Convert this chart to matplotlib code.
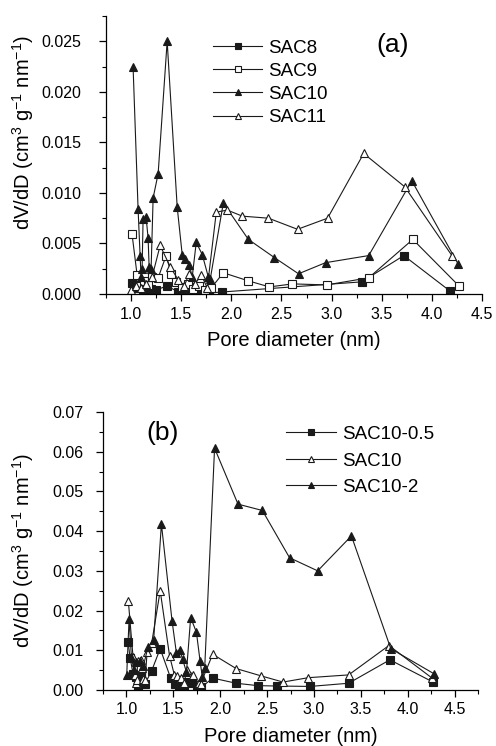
import matplotlib
matplotlib.use("Agg")
import matplotlib.pyplot as plt
from matplotlib.ticker import MultipleLocator

plt.rcParams["font.family"] = ["Liberation Sans", "DejaVu Sans"]
plt.rcParams["mathtext.fontset"] = "custom"
plt.rcParams["mathtext.rm"] = "Liberation Sans"

# ---- panel (a) -------------------------------------------------------------
sac8_x = [1.01, 1.05, 1.08, 1.12, 1.16, 1.20, 1.25, 1.36, 1.47, 1.55, 1.63, 1.70, 1.78, 1.91, 3.30, 3.72, 4.18]
sac8_y = [0.0011, 0.0006, 0.0009, 0.0003, 0.0006, 0.0005, 0.0004, 0.0008, 0.0002, 0.0003, 0.0007, 0.0002, 0.0001, 0.0002,
          0.0012, 0.0038, 0.0003]

sac9_x = [1.01, 1.06, 1.09, 1.13, 1.17, 1.21, 1.27, 1.35, 1.40, 1.45, 1.51, 1.57, 1.62, 1.68, 1.74, 1.80, 1.92, 2.17,
          2.38, 2.61, 2.95, 3.37, 3.81, 4.27]
sac9_y = [0.0059, 0.0019, 0.0008, 0.0013, 0.0009, 0.0017, 0.0016, 0.0038, 0.0020, 0.0012, 0.0007, 0.0010, 0.0005, 0.0008,
          0.0004, 0.0006, 0.0021, 0.0013, 0.0007, 0.0010, 0.0009, 0.0016, 0.0054, 0.0008]

sac10_x = [1.02, 1.07, 1.09, 1.10, 1.11, 1.12, 1.15, 1.17, 1.18, 1.20, 1.22, 1.27, 1.36, 1.46, 1.51, 1.54, 1.58, 1.61,
           1.65, 1.71, 1.77, 1.79, 1.92, 2.17, 2.43, 2.67, 2.94, 3.37, 3.80, 4.26]
sac10_y = [0.0225, 0.0084, 0.0038, 0.0017, 0.0025, 0.0074, 0.0076, 0.0055, 0.0027, 0.0025, 0.0095, 0.0119, 0.0250, 0.0086,
           0.0039, 0.0035, 0.0029, 0.0017, 0.0051, 0.0039, 0.0017, 0.0015, 0.0090, 0.0054, 0.0036, 0.0020, 0.0031, 0.0038,
           0.0112, 0.0030]

sac11_x = [1.00, 1.05, 1.10, 1.15, 1.21, 1.29, 1.39, 1.47, 1.53, 1.58, 1.64, 1.70, 1.76, 1.85, 1.96, 2.11, 2.37, 2.66,
           2.96, 3.32, 3.73, 4.20]
sac11_y = [0.0004, 0.0008, 0.0006, 0.0010, 0.0017, 0.0048, 0.0027, 0.0014, 0.0008, 0.0020, 0.0010, 0.0019, 0.0006, 0.0081,
           0.0083, 0.0077, 0.0075, 0.0064, 0.0075, 0.0139, 0.0106, 0.0038]

# ---- panel (b) -------------------------------------------------------------
s05_x = [1.017, 1.04, 1.07, 1.107, 1.12, 1.16, 1.195, 1.27, 1.36, 1.47, 1.515, 1.56, 1.61, 1.65, 1.70, 1.75, 1.80, 1.92,
         2.17, 2.40, 2.61, 2.96, 3.37, 3.81, 4.27]
s05_y = [0.0121, 0.0080, 0.0041, 0.0032, 0.0011, 0.0037, 0.0014, 0.0049, 0.0104, 0.0031, 0.0016, 0.0010, 0.0008, 0.0020,
         0.0017, 0.0006, 0.0007, 0.0030, 0.0017, 0.0011, 0.0010, 0.0009, 0.0017, 0.0076, 0.0020]

s2_x = [1.003, 1.028, 1.053, 1.08, 1.107, 1.14, 1.18, 1.23, 1.29, 1.373, 1.486, 1.533, 1.568, 1.60, 1.64, 1.685, 1.746,
        1.785, 1.81, 1.835, 1.94, 2.19, 2.45, 2.74, 3.04, 3.40, 3.82, 4.28]
s2_y = [0.0038, 0.0178, 0.0083, 0.0050, 0.0070, 0.0074, 0.0060, 0.0108, 0.0125, 0.0418, 0.0175, 0.0093, 0.0100, 0.0077,
        0.0045, 0.0182, 0.0146, 0.0074, 0.0032, 0.0056, 0.0609, 0.0468, 0.0452, 0.0333, 0.0300, 0.0388, 0.0104, 0.0041]

LINE = "#1a1a1a"
YLABEL = r"dV/dD (cm$^{3}$ g$^{-1}$ nm$^{-1}$)"


def style_axes(ax, xmax, ymax, ymajor, ypad, label_xy):
    ax.set_xlim(0.75, xmax)
    ax.set_ylim(0, ymax)
    ax.xaxis.set_major_locator(MultipleLocator(0.5))
    ax.xaxis.set_minor_locator(MultipleLocator(0.25))
    ax.yaxis.set_major_locator(MultipleLocator(ymajor))
    ax.yaxis.set_minor_locator(MultipleLocator(ymajor / 2))
    ax.spines["top"].set_visible(False)
    ax.spines["right"].set_visible(False)
    for s in ("left", "bottom"):
        ax.spines[s].set_linewidth(0.9)
    ax.tick_params(which="major", direction="out", length=5, width=0.9, labelsize=11.5, pad=4)
    ax.tick_params(axis="y", which="major", pad=ypad)
    ax.tick_params(which="minor", direction="out", length=3, width=0.8)
    ax.set_xlabel("Pore diameter (nm)", fontsize=14.5, labelpad=7)
    ax.set_ylabel(YLABEL, fontsize=14.5)
    ax.yaxis.set_label_coords(*label_xy)


def series(ax, x, y, marker, filled, label, ms=6):
    ax.plot(x, y, color=LINE, lw=0.8, marker=marker, ms=ms, mew=0.8,
            mfc=LINE if filled else "white", mec=LINE, label=label)


fig = plt.figure(figsize=(4.96, 7.46), dpi=100)

ax1 = fig.add_axes([106 / 496, 1 - 294 / 746, 376 / 496, 278 / 746])
series(ax1, sac8_x, sac8_y, "s", True, "SAC8", 5.5)
series(ax1, sac9_x, sac9_y, "s", False, "SAC9", 5.5)
series(ax1, sac10_x, sac10_y, "^", True, "SAC10")
series(ax1, sac11_x, sac11_y, "^", False, "SAC11")
style_axes(ax1, 4.5, 0.0275, 0.005, 13, (-0.186, 0.58))
ax1.text(3.61, 0.0246, "(a)", fontsize=19, ha="center", va="center")
ax1.legend(loc="upper left", bbox_to_anchor=(0.285, 0.915), frameon=False, fontsize=13.5,
           handlelength=2.6, handletextpad=0.35, labelspacing=0.32, markerscale=0.7,
           borderpad=0, borderaxespad=0, numpoints=1)

ax2 = fig.add_axes([103 / 496, 1 - 690 / 746, 375 / 496, 278 / 746])
series(ax2, s05_x, s05_y, "s", True, "SAC10-0.5", 5.5)
series(ax2, sac10_x, sac10_y, "^", False, "SAC10")
series(ax2, s2_x, s2_y, "^", True, "SAC10-2")
style_axes(ax2, 4.75, 0.07, 0.01, 9, (-0.179, 0.5))
ax2.text(1.39, 0.0646, "(b)", fontsize=19, ha="center", va="center")
ax2.legend(loc="upper left", bbox_to_anchor=(0.487, 0.95), frameon=False, fontsize=13.5,
           handlelength=2.7, handletextpad=0.3, labelspacing=0.5, markerscale=0.7,
           borderpad=0, borderaxespad=0, numpoints=1)

fig.savefig("out.png", dpi=100)
